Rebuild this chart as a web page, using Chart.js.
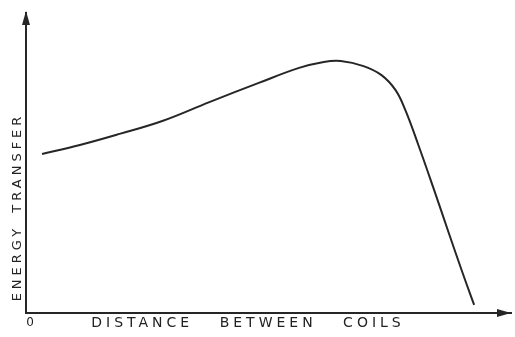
<!DOCTYPE html>
<html>
<head>
<meta charset="utf-8">
<script src="https://cdn.jsdelivr.net/npm/chart.js@4"></script>
<style>
  html, body { margin: 0; padding: 0; background: #fff; }
  #wrap { width: 515px; height: 337px; }
</style>
</head>
<body>
<div id="wrap"><canvas id="coilChart"></canvas></div>
<script>
// values (x: distance, y: energy transfer, both 0-100)
const distance = [3.3, 11.1, 19.3, 28.1, 37.8, 48.0, 56.3, 61.4, 64.9, 69.6, 73.3, 76.2, 78.2, 80.9, 84.0, 87.1, 90.1, 92.4];
const energy = [53.0, 56.0, 59.7, 64.0, 70.3, 76.7, 81.7, 83.7, 84.0, 82.3, 79.3, 74.3, 67.7, 56.0, 41.7, 27.0, 13.0, 2.7];
const xTickLabels = ["0"];
const xTitle = "DISTANCE BETWEEN COILS";
const yTitle = "ENERGY TRANSFER";

const ink = "#262626";

// arrowheads on the axes plus the hand-lettered axis titles
const sketchAxes = {
    id: "sketchAxes",
    afterDraw(chart) {
        const { ctx, chartArea } = chart;
        ctx.save();
        ctx.fillStyle = ink;

        // y arrow
        ctx.beginPath();
        ctx.moveTo(chartArea.left, chartArea.top - 2);
        ctx.lineTo(chartArea.left - 4, chartArea.top + 12);
        ctx.lineTo(chartArea.left + 4, chartArea.top + 12);
        ctx.closePath();
        ctx.fill();

        // x arrow
        ctx.beginPath();
        ctx.moveTo(chartArea.right, chartArea.bottom);
        ctx.lineTo(chartArea.right - 14, chartArea.bottom - 4);
        ctx.lineTo(chartArea.right - 14, chartArea.bottom + 4);
        ctx.closePath();
        ctx.fill();

        ctx.fillStyle = "#222";
        ctx.font = '14px "DejaVu Sans"';
        ctx.textBaseline = "middle";
        ctx.textAlign = "center";
        ctx.letterSpacing = "4px";
        ctx.wordSpacing = "18px";
        ctx.fillText(xTitle, 248, 323);

        ctx.font = '13px "DejaVu Sans"';
        ctx.letterSpacing = "4px";
        ctx.wordSpacing = "4px";
        ctx.translate(18, 207);
        ctx.rotate(-Math.PI / 2);
        ctx.fillText(yTitle, 0, 0);
        ctx.restore();
    }
};

new Chart(document.getElementById("coilChart"), {
    type: "line",
    data: {
        datasets: [{
            data: distance.map((d, i) => ({ x: d, y: energy[i] })),
            borderColor: ink,
            borderWidth: 2,
            pointRadius: 0,
            fill: false,
            tension: 0.4
        }]
    },
    options: {
        responsive: true,
        maintainAspectRatio: false,
        animation: false,
        layout: { padding: { top: 13, right: 4, left: 0, bottom: 0 } },
        plugins: {
            legend: { display: false },
            tooltip: { enabled: false }
        },
        scales: {
            x: {
                type: "linear",
                min: 0,
                max: 100,
                grid: { display: false, drawTicks: false },
                border: { display: true, color: ink, width: 2 },
                afterFit: (scale) => { scale.height = 24; },
                ticks: {
                    stepSize: 100,
                    padding: 3,
                    labelOffset: 4,
                    color: "#222",
                    font: { family: "DejaVu Sans", size: 12 },
                    callback: (v) => (v === 0 ? xTickLabels[0] : "")
                }
            },
            y: {
                min: 0,
                max: 100,
                grid: { display: false, drawTicks: false },
                border: { display: true, color: ink, width: 2 },
                ticks: { display: false },
                afterFit: (scale) => { scale.width = 26; }
            }
        }
    },
    plugins: [sketchAxes]
});
</script>
</body>
</html>
